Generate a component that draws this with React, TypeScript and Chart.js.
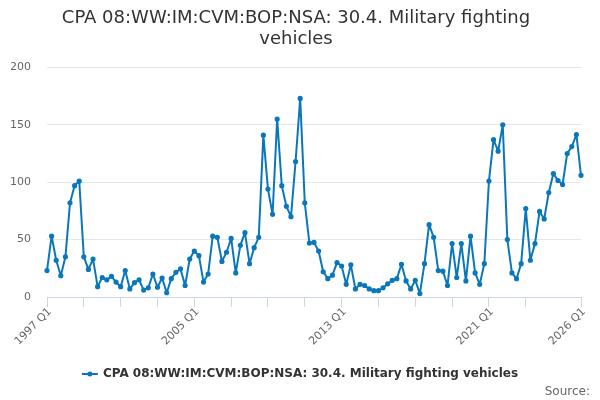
import React, { useEffect, useRef } from "react";
import { Chart, registerables } from "chart.js";

Chart.register(...registerables);

const startYear = 1997;
const endYear = 2026;
const seriesName = "CPA 08:WW:IM:CVM:BOP:NSA: 30.4. Military fighting vehicles";
const titleLines = ["CPA 08:WW:IM:CVM:BOP:NSA: 30.4. Military fighting", "vehicles"];
const shownTickLabels = ["1997 Q1", "2005 Q1", "2013 Q1", "2021 Q1", "2026 Q1"];
const tickMarkLabels = [
  "1997 Q1", "1999 Q1", "2001 Q1", "2003 Q1", "2005 Q1", "2007 Q1", "2009 Q1",
  "2011 Q1", "2013 Q1", "2015 Q1", "2017 Q1", "2019 Q1", "2021 Q1", "2023 Q1", "2026 Q1",
];

const categories: string[] = [];
for (let y = startYear; y <= endYear; y++) {
  for (let q = 1; q <= 4; q++) {
    if (y === endYear && q > 1) break;
    categories.push(`${y} Q${q}`);
  }
}

const values = [
  23, 53, 32, 18.5, 35, 82, 97, 101, 35, 24,
  33, 9, 17, 15, 18, 13, 9, 23, 7, 12.5,
  15, 6, 8, 20, 8.5, 16.5, 3.7, 16, 21.5, 24.5,
  10, 33, 40, 36, 13, 20, 53, 52, 31, 39,
  51, 21, 45, 56, 29, 43, 52, 141, 94, 72,
  155, 97, 79, 70, 118, 173, 82, 47, 47.5, 40,
  22, 16, 19, 30, 27, 11, 28, 7, 11, 10,
  7, 5.5, 5.5, 8, 11.5, 14.5, 16, 28.5, 14, 7,
  14.5, 3, 29, 63, 52, 23, 22.5, 10, 46.5, 17,
  46.5, 14, 53, 21, 11, 29, 101, 137, 127, 150,
  50, 21, 16, 29, 77, 32, 46.5, 74.5, 68, 91,
  107.5, 101.5, 98, 125, 131, 141.5, 106,
];

const LINE_COLOR = "#0a77bb";
const FONT = "'DejaVu Sans', sans-serif";

const xLabelPlugin = {
  id: "rotatedXLabels",
  afterDraw(chart: any) {
    const ctx = chart.ctx;
    const xs = chart.scales.x;
    const y0 = chart.chartArea.bottom;
    ctx.save();
    ctx.font = `11px ${FONT}`;
    ctx.fillStyle = "#666666";
    ctx.textAlign = "right";
    ctx.textBaseline = "middle";
    shownTickLabels.forEach((lab) => {
      const idx = categories.indexOf(lab);
      if (idx < 0) return;
      const x = xs.getPixelForValue(idx);
      ctx.save();
      ctx.translate(x + 3, y0 + 13);
      ctx.rotate(-Math.PI / 4);
      ctx.fillText(lab, 0, 0);
      ctx.restore();
    });
    ctx.restore();
  },
};

const footerPlugin = {
  id: "footerLegend",
  afterDraw(chart: any) {
    const ctx = chart.ctx;
    ctx.save();
    ctx.font = `bold 12px ${FONT}`;
    const textW = ctx.measureText(seriesName).width;
    const symW = 16;
    const gap = 5;
    const total = symW + gap + textW;
    const x0 = (chart.width - total) / 2;
    const y = chart.height - 26;
    ctx.strokeStyle = LINE_COLOR;
    ctx.lineWidth = 2;
    ctx.beginPath();
    ctx.moveTo(x0, y);
    ctx.lineTo(x0 + symW, y);
    ctx.stroke();
    ctx.fillStyle = LINE_COLOR;
    ctx.beginPath();
    ctx.arc(x0 + symW / 2, y, 2.5, 0, Math.PI * 2);
    ctx.fill();
    ctx.fillStyle = "#333333";
    ctx.textBaseline = "middle";
    ctx.textAlign = "left";
    ctx.fillText(seriesName, x0 + symW + gap, y);
    ctx.font = `12px ${FONT}`;
    ctx.fillStyle = "#666666";
    ctx.textAlign = "right";
    ctx.fillText("Source:", chart.width - 10, chart.height - 8);
    ctx.restore();
  },
};

export default function App() {
  const ref = useRef<HTMLCanvasElement | null>(null);
  useEffect(() => {
    document.body.style.margin = "0";
    const canvas = ref.current;
    if (!canvas) return;
    const chart = new Chart(canvas, {
      type: "line",
      data: {
        labels: categories,
        datasets: [
          {
            label: seriesName,
            data: values,
            borderColor: LINE_COLOR,
            backgroundColor: LINE_COLOR,
            borderWidth: 2,
            borderJoinStyle: "round",
            borderCapStyle: "round",
            pointRadius: 1.6,
            pointHoverRadius: 3,
            tension: 0,
          },
        ],
      },
      options: {
        animation: false,
        responsive: false,
        maintainAspectRatio: false,
        layout: { padding: { left: 11, right: 19, top: 0, bottom: 93 } },
        plugins: {
          legend: { display: false },
          tooltip: { enabled: false },
          title: {
            display: true,
            text: titleLines,
            color: "#333333",
            font: { family: FONT, size: 18, weight: "normal", lineHeight: 1.15 },
            padding: { top: 8, bottom: 18 },
          },
        },
        scales: {
          x: {
            type: "category",
            offset: false,
            border: { display: true, color: "#ccd6eb", width: 1 },
            grid: {
              drawOnChartArea: false,
              drawTicks: true,
              tickLength: 10,
              color: (c: any) =>
                tickMarkLabels.includes(categories[c.index]) ? "#ccd6eb" : "rgba(0,0,0,0)",
            },
            ticks: {
              display: false,
              autoSkip: false,
              maxRotation: 0,
              minRotation: 0,
            },
          },
          y: {
            min: 0,
            max: 200,
            afterFit: (s: any) => {
              s.width = 36;
            },
            border: { display: false },
            grid: { color: "#e6e6e6", drawTicks: false },
            ticks: {
              stepSize: 50,
              padding: 16,
              color: "#666666",
              font: { family: FONT, size: 11 },
            },
          },
        },
      },
      plugins: [xLabelPlugin, footerPlugin],
    });
    return () => chart.destroy();
  }, []);
  return (
    <div style={{ width: 600, height: 400, position: "relative" }}>
      <canvas ref={ref} width={600} height={400} style={{ width: 600, height: 400 }} />
    </div>
  );
}
